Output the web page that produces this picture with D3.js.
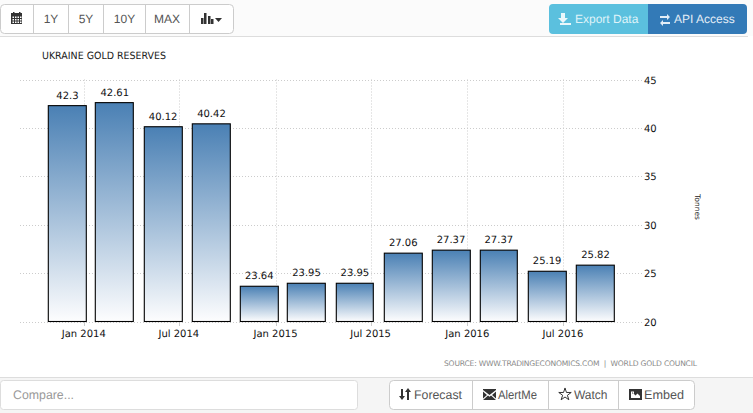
<!DOCTYPE html>
<html><head><meta charset="utf-8">
<script src="https://cdn.jsdelivr.net/npm/d3@7/dist/d3.min.js"></script>
<style>html,body{margin:0;padding:0;background:#fff;overflow:hidden}svg{display:block}
text{text-rendering:geometricPrecision}</style></head>
<body><svg id="c" width="753" height="413"></svg>
<script>
const chartTitle = "UKRAINE GOLD RESERVES";
const periods = ["2013-12","2014-03","2014-06","2014-09","2014-12","2015-03","2015-06","2015-09","2015-12","2016-03","2016-06","2016-09"];
const reserves = [42.3,42.61,40.12,40.42,23.64,23.95,23.95,27.06,27.37,27.37,25.19,25.82];
const xTickMonths = ["2014-01","2014-07","2015-01","2015-07","2016-01","2016-07"];
const yTicks = [20,25,30,35,40,45];
const yTitle = "Tonnes";
const sourceText = "SOURCE: WWW.TRADINGECONOMICS.COM  |  WORLD GOLD COUNCIL";
const rangeButtons = ["1Y","5Y","10Y","MAX"];

const parse = d3.utcParse("%Y-%m");
const fmtTick = d3.utcFormat("%b %Y");
const svg = d3.select("#c");
const chartFont = "'DejaVu Sans',sans-serif", uiFont = "'Liberation Sans',Arial,sans-serif";

// page regions
svg.append("rect").attr("width",753).attr("height",36).attr("fill","#fbfbfb");
svg.append("rect").attr("y",377).attr("width",753).attr("height",36).attr("fill","#f5f5f5");
svg.append("line").attr("x1",0).attr("x2",748).attr("y1",36.5).attr("y2",36.5).attr("stroke","#ddd");
svg.append("line").attr("x1",0).attr("x2",753).attr("y1",377.5).attr("y2",377.5).attr("stroke","#ddd");

const x = d3.scaleUtc().domain([parse(periods[0]),parse(periods[periods.length-1])]).range([67.5,595.5]);
const y = d3.scaleLinear().domain([20,45]).range([321.5,79.5]);

const defs = svg.append("defs");
const g = defs.append("linearGradient").attr("id","bar").attr("x1",0).attr("x2",0).attr("y1",0).attr("y2",1);
g.append("stop").attr("offset","0%").attr("stop-color","#4a80b4");
g.append("stop").attr("offset","100%").attr("stop-color","#fdfdfe");

// grid
const grid = svg.append("g").attr("stroke","#ccc").attr("stroke-dasharray","1,2");
grid.selectAll(".h").data(yTicks).join("line").attr("x1",20).attr("x2",642)
  .attr("y1",d=>Math.round(y(d))+.5).attr("y2",d=>Math.round(y(d))+.5);
grid.selectAll(".v").data(xTickMonths).join("line")
  .attr("x1",d=>Math.round(x(parse(d)))+.5).attr("x2",d=>Math.round(x(parse(d)))+.5)
  .attr("y1",79.5).attr("y2",321.5);
svg.append("g").attr("stroke","#ccc").selectAll("line").data(xTickMonths).join("line")
  .attr("x1",d=>Math.round(x(parse(d)))+.5).attr("x2",d=>Math.round(x(parse(d)))+.5)
  .attr("y1",321.5).attr("y2",326);

// bars
const left = i=>Math.round(x(parse(periods[i]))-19.3)+.3;
const right = i=>Math.round(x(parse(periods[i]))+18.6)+.3;
svg.append("g").selectAll("rect").data(reserves).join("rect")
  .attr("x",(d,i)=>left(i))
  .attr("width",(d,i)=>right(i)-left(i))
  .attr("y",d=>y(d))
  .attr("height",d=>y(20)-y(d))
  .attr("fill","url(#bar)").attr("stroke","#000").attr("stroke-width",1.1);

// value labels
svg.append("g").selectAll("text").data(reserves).join("text")
  .attr("x",(d,i)=>x(parse(periods[i])))
  .attr("y",d=>y(d)-7)
  .attr("text-anchor","middle").attr("font-family",chartFont).attr("font-size",10).attr("fill","#111")
  .text(d=>d);

// axes
svg.append("g").selectAll("text").data(xTickMonths).join("text")
  .attr("x",d=>x(parse(d))).attr("y",337)
  .attr("text-anchor","middle").attr("font-family",chartFont).attr("font-size",10).attr("fill","#111")
  .text(d=>fmtTick(parse(d)));
svg.append("g").selectAll("text").data(yTicks).join("text")
  .attr("x",644).attr("y",d=>y(d)+4)
  .attr("font-family",chartFont).attr("font-size",10).attr("fill","#111")
  .text(d=>d);
svg.append("text").attr("transform","translate(695,207) rotate(90)").attr("text-anchor","middle")
  .attr("font-family",chartFont).attr("font-size",7.5).attr("fill","#222").text(yTitle);
svg.append("text").attr("x",42).attr("y",59).attr("font-family",chartFont).attr("font-size",10)
  .attr("textLength",124).attr("lengthAdjust","spacingAndGlyphs").attr("fill","#222").text(chartTitle);
svg.append("text").attr("x",444).attr("y",366).attr("xml:space","preserve").attr("font-family",chartFont).attr("font-size",7.6).attr("fill","#8a8a8a").attr("textLength",253).text(sourceText);

// toolbar
function box(x0,y0,w,h,r,fill,stroke){return svg.append("rect").attr("x",x0+.5).attr("y",y0+.5).attr("width",w).attr("height",h).attr("rx",r).attr("fill",fill).attr("stroke",stroke);}
function sep(xp,y0,y1,c){svg.append("line").attr("x1",xp+.5).attr("x2",xp+.5).attr("y1",y0).attr("y2",y1).attr("stroke",c);}
function label(t,xp,yp,c,size,a,len){const s=svg.append("text").attr("x",xp).attr("y",yp).attr("text-anchor",a||"middle").attr("font-family",uiFont).attr("font-size",size||12).attr("fill",c).text(t);if(len)s.attr("textLength",len).attr("lengthAdjust","spacingAndGlyphs");}
box(0,4,233,29,4,"#fff","#ccc");
const rangeX=[51,86,124.500,167];
[33,68,103,145,189].forEach(p=>sep(p,5,33,"#ccc"));
rangeButtons.forEach((b,i)=>label(b,rangeX[i],23,"#555",12));
// calendar icon
svg.append("rect").attr("x",11).attr("y",13).attr("width",11).attr("height",11).attr("fill","#333");
svg.append("rect").attr("x",13).attr("y",12).attr("width",1.500).attr("height",2).attr("fill","#333");
svg.append("rect").attr("x",19).attr("y",12).attr("width",1.500).attr("height",2).attr("fill","#333");
svg.append("g").attr("fill","#fff").selectAll("rect").data(d3.range(12)).join("rect")
  .attr("x",d=>12.5+(d%4)*2.5).attr("y",d=>16.5+Math.floor(d/4)*2.5).attr("width",1.5).attr("height",1.5);
// chart type icon
svg.append("g").attr("fill","#333").selectAll("rect").data([[201,6],[204,11],[208,8],[211,5]]).join("rect")
  .attr("x",d=>d[0]).attr("y",d=>24-d[1]).attr("width",2.5).attr("height",d=>d[1]);
svg.append("path").attr("d","M215 18h7l-3.5 4z").attr("fill","#333");

// export/api
svg.append("path").attr("d","M652 4H553a4 4 0 0 0 -4 4V30a4 4 0 0 0 4 4H648.5V4z").attr("fill","#5bc0de");
svg.append("path").attr("d","M648 4H743a4 4 0 0 1 4 4V30a4 4 0 0 1 -4 4H648z").attr("fill","#337ab7");
label("Export Data",575,23,"#dff3f9",12,"start");
label("API Access",674,23,"#e4edf6",12,"start");
svg.append("path").attr("d","M561 13h4v5h3l-5 5 -5 -5h3zM560 23h11v2h-11z").attr("fill","#eaf7fb");
svg.append("path").attr("d","M660 16h7v-2l3 3 -3 3v-2h-7zM670 22h-7v-2l-3 3 3 3v-2h7z").attr("fill","#e4edf6");

// compare + actions
box(0,380,357,29,3,"#fff","#ddd");
label("Compare...",13,399,"#999",12.5,"start",61);
box(389,380,305,29,4,"#fff","#ccc");
[472,548,618].forEach(p=>sep(p,381,409,"#ccc"));
label("Forecast",414,399,"#555",12.5,"start",48);
label("AlertMe",498,399,"#555",12.5,"start",39);
label("Watch",574,399,"#555",12.5,"start",33.5);
label("Embed",644,399,"#555",12.5,"start",40);
svg.append("path").attr("d","M401 389h2v7h2l-3 4 -3 -4h2zM407 400v-8h-2l3 -4 3 4h-2v8z").attr("fill","#333");
svg.append("path").attr("d","M483 389h13v1l-6.500 5 -6.500 -5zM483 391.500l4 3.500 -4 3.500zM496 391.500l-4 3.500 4 3.500zM483 400l5 -4.500 1.500 1.200 1.500 -1.200 5 4.500z").attr("fill","#333");
svg.append("path").attr("transform","translate(565,394.500)").attr("d",d3.symbol(d3.symbolStar,48)()).attr("fill","none").attr("stroke","#333").attr("stroke-width",1);
svg.append("path").attr("fill-rule","evenodd").attr("d","M629 389h13v11h-13zM631 391v7h9v-2l-2.500 -2.500 -2 2 -1.500 -1.500zM632 391.500h2v2h-2z").attr("fill","#333");
</script></body></html>
